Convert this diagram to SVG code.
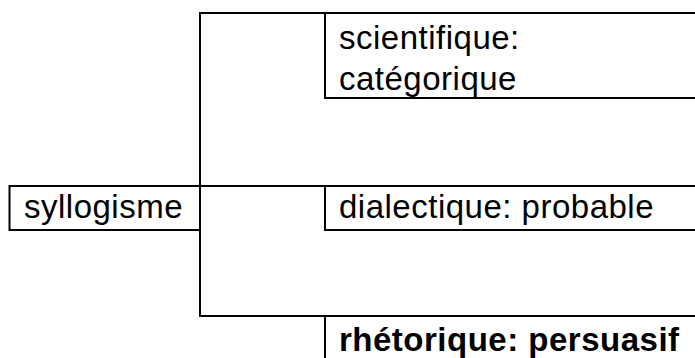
<svg xmlns="http://www.w3.org/2000/svg" width="695" height="358" viewBox="0 0 695 358">
  <style>
    .rule { stroke: #000; stroke-width: 2; fill: none; stroke-linecap: square; }
    .lbl { font-family: "Liberation Sans", Arial, sans-serif; font-size: 33px; letter-spacing: 0.5px; fill: #000; }
    .bold { font-weight: bold; }
  </style>
  <rect width="695" height="358" fill="#fff"/>
  <g id="connectors">
    <path class="rule" d="M200 13 H695 M200 13 V316 H695"/>
  </g>
  <g id="node-syllogisme">
    <path class="rule" d="M9.5 186 H200 M9.5 186 V230 H200"/>
    <text class="lbl" x="24" y="218">syllogisme</text>
  </g>
  <g id="node-scientifique">
    <path class="rule" d="M325 13 V98 H695"/>
    <text class="lbl" x="339" y="49">scientifique:</text>
    <text class="lbl" x="339" y="90">catégorique</text>
  </g>
  <g id="node-dialectique">
    <path class="rule" d="M200 186 H695 M325 186 V230 H695"/>
    <text class="lbl" x="339" y="218">dialectique: probable</text>
  </g>
  <g id="node-rhetorique">
    <path class="rule" d="M325 316 V358"/>
    <text class="lbl bold" x="339" y="351">rhétorique: persuasif</text>
  </g>
</svg>
